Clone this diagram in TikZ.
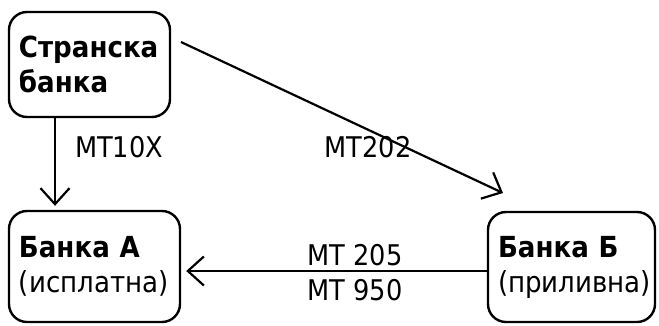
\documentclass[tikz,border=0pt]{standalone}
\usepackage{fontspec}
\setmainfont{DejaVu Sans Condensed}
\usetikzlibrary{arrows.meta}
\begin{document}
\begin{tikzpicture}[x=1pt,y=-1pt,
  box/.style={draw, line width=2.4pt, rounded corners=18pt, align=left, anchor=center,
    inner sep=0pt, font=\fontsize{29}{35}\selectfont},
  arr/.style={line width=2.2pt, -{Straight Barb[length=16pt,width=29pt,line width=2.2pt]}},
  lbl/.style={font=\fontsize{28.5}{35}\selectfont, inner sep=0pt}]
\useasboundingbox (0,0) rectangle (659,325);
\node[box, minimum width=161pt, minimum height=105pt, text width=141pt] (s) at (89.5,64.5)
  {\textbf{Странска}\\\textbf{банка}};
\node[box, minimum width=171pt, minimum height=111pt, text width=151pt] (a) at (94.5,266.5)
  {\textbf{Банка А}\\(исплатна)};
\node[box, minimum width=167pt, minimum height=110pt, text width=147pt] (b) at (571.5,267)
  {\textbf{Банка Б}\\(приливна)};
\coordinate (vx) at (55,0);
\coordinate (hy) at (0,271);
\coordinate (d1) at (181,42);
\coordinate (d2) at (503,193);
\draw[arr, shorten >=4pt] (s.south -| vx) -- (a.north -| vx);
\draw[arr] (d1) -- (d2);
\draw[arr, shorten >=5pt] (b.west |- hy) -- (a.east |- hy);
\node[lbl, anchor=base west] (l1) at (75,157) {MT10X};
\node[lbl, anchor=base] (l2) at (368,157) {MT202};
\node[lbl, anchor=base] (l3) at (355,265) {MT 205};
\node[lbl, anchor=base] (l4) at (355,300) {MT 950};
\end{tikzpicture}
\end{document}
